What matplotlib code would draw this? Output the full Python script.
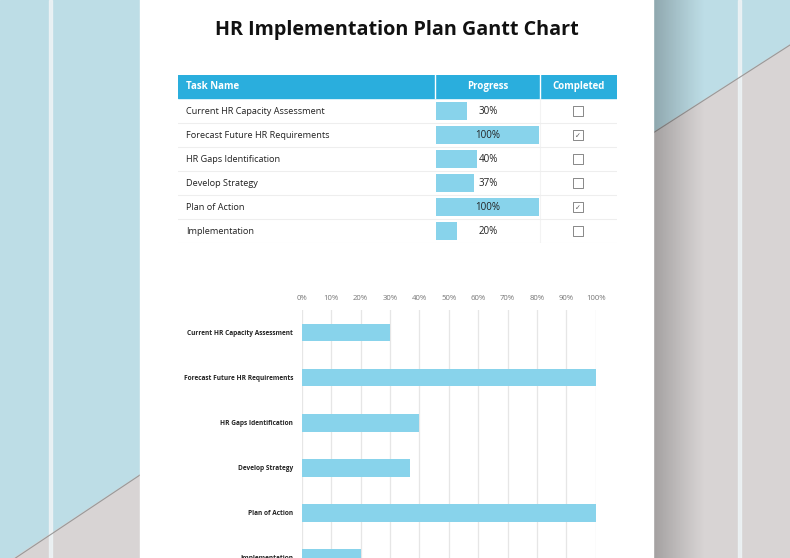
import numpy as np
import matplotlib
matplotlib.use("Agg")
import matplotlib.pyplot as plt
from matplotlib.patches import Polygon, Rectangle

# ---- data ----
tasks = ["Current HR Capacity Assessment", "Forecast Future HR Requirements",
         "HR Gaps Identification", "Develop Strategy", "Plan of Action", "Implementation"]
progress = [30, 100, 40, 37, 100, 20]
completed = [False, True, False, False, True, False]
tick_values = [0, 10, 20, 30, 40, 50, 60, 70, 80, 90, 100]
tick_labels = [f"{v}%" for v in tick_values]
title = "HR Implementation Plan Gantt Chart"
headers = ["Task Name", "Progress", "Completed"]

W, H = 790, 558
FONT = "Open Sans"
BLUE_HDR = "#2aaedd"
BAR = "#88d3eb"
TXT = "#222222"

fig = plt.figure(figsize=(W / 100, H / 100), dpi=100)


def px_axes(x0, y0, x1, y1, z=1):
    return fig.add_axes([x0 / W, 1 - y1 / H, (x1 - x0) / W, (y1 - y0) / H], zorder=z)


# ---- background ----
bg = px_axes(0, 0, W, H, z=0)
bg.set_xlim(0, W)
bg.set_ylim(H, 0)
bg.axis("off")
bg.add_patch(Rectangle((0, 0), W, H, color="#bddde6"))
# grey diagonal regions
bg.add_patch(Polygon([(-5, 558 + 13), (140, 475), (140, 560), (-5, 560)], closed=True, color="#d8d4d4"))
bg.plot([15.5, 140], [558, 475], color="#999999", lw=0.8)
bg.add_patch(Polygon([(653, 133), (790, 45), (790, 560), (653, 560)], closed=True, color="#d8d4d4"))
bg.plot([653, 790], [133, 45], color="#999999", lw=0.8)
# white vertical lines
bg.add_patch(Rectangle((49, 0), 3, H, color="#edf3f5", alpha=0.9))
bg.add_patch(Rectangle((738, 0), 3, H, color="#edf3f5", alpha=0.9))
# shadow right of page
grad = np.linspace(1, 0, 200) ** 1.1
grad = np.tile(grad, (10, 1))
shadow_rgba = np.zeros((10, 200, 4))
shadow_rgba[..., 3] = grad * 0.25
bg.imshow(shadow_rgba, extent=(653, 705, H, 0), aspect="auto", zorder=3, interpolation="bilinear")
bg.set_xlim(0, W)
bg.set_ylim(H, 0)
# page
bg.add_patch(Rectangle((140, -2), 513, H + 4, color="white", zorder=4))
bg.text(397, 30, title, ha="center", va="center", fontsize=14.2, fontweight="bold",
        family=FONT, color="#111111", zorder=5)

# ---- table ----
nrows = len(tasks)
tab = px_axes(178, 75, 617, 243, z=2)
tab.set_xlim(178, 617)
tab.set_ylim(nrows - 0.5, -1.5)
tab.axis("off")
tab.add_patch(Rectangle((178, -1.5), 439, 0.96, color=BLUE_HDR))
tab.plot([435, 435], [-1.5, -0.54], color="white", lw=1)
tab.plot([540, 540], [-1.5, -0.54], color="white", lw=1)
tab.plot([540, 540], [-0.54, nrows - 0.5], color="#f3f3f3", lw=0.8)
tab.text(186, -1.02, headers[0], ha="left", va="center", color="white", fontsize=7,
         fontweight="bold", family=FONT)
tab.text(487.5, -1.02, headers[1], ha="center", va="center", color="white", fontsize=7,
         fontweight="bold", family=FONT)
tab.text(578.5, -1.02, headers[2], ha="center", va="center", color="white", fontsize=7,
         fontweight="bold", family=FONT)
for i, name in enumerate(tasks):
    tab.text(186, i, name, ha="left", va="center", color=TXT, fontsize=6.6, family=FONT)
    tab.plot([178, 617], [i + 0.5, i + 0.5], color="#eeeeee", lw=0.8)
# checkboxes
tab.scatter([577.5] * nrows, range(nrows), marker="s", s=55, facecolor="white",
            edgecolor="#888888", linewidths=0.7, zorder=3)
for i, c in enumerate(completed):
    if c:
        tab.text(577.5, i + 0.03, "✓", ha="center", va="center", fontsize=5, color="#555555",
                 family="DejaVu Sans", zorder=4)

prog = px_axes(436, 75, 539, 243, z=3)
prog.set_xlim(0, 100)
prog.set_ylim(nrows - 0.5, -1.5)
prog.axis("off")
prog.patch.set_alpha(0)
prog.barh(range(nrows), progress, height=0.72, color=BAR)
for i, v in enumerate(progress):
    prog.text(50.5, i, f"{v}%", ha="center", va="center", color=TXT, fontsize=7, family=FONT)

# ---- bar chart ----
ax = px_axes(301.7, 310, 595.7, 558, z=2)
ax.barh(range(nrows), progress, height=0.39, color=BAR, zorder=3)
ax.set_xlim(0, 100)
ax.set_ylim(4.87, -0.5)
ax.set_xticks(tick_values)
ax.set_xticklabels(tick_labels)
ax.xaxis.tick_top()
ax.tick_params(axis="x", length=0, pad=6, labelsize=5.6, labelcolor="#777777")
ax.set_yticks(range(nrows))
ax.set_yticklabels(tasks)
ax.tick_params(axis="y", length=0, pad=6, labelsize=4.7, labelcolor="#222222")
for lbl in ax.get_yticklabels():
    lbl.set_fontweight("bold")
    lbl.set_family(FONT)
for lbl in ax.get_xticklabels():
    lbl.set_family(FONT)
ax.grid(axis="x", color="#e6e6e6", lw=0.9, zorder=0)
ax.grid(axis="y", visible=False)
for s in ax.spines.values():
    s.set_visible(False)
ax.patch.set_alpha(0)

fig.savefig("out.png", dpi=100)
